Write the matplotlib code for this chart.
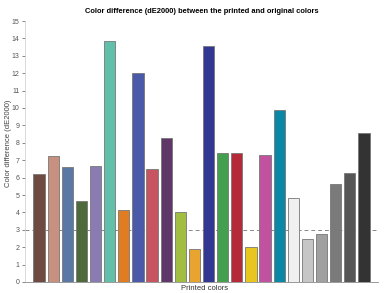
import matplotlib
matplotlib.use("Agg")
import matplotlib.pyplot as plt

values = [6.2, 7.25, 6.6, 4.65, 6.65, 13.85, 4.15, 12.0, 6.5, 8.25, 4.0, 1.9,
          13.55, 7.42, 7.42, 2.03, 7.32, 9.88, 4.85, 2.5, 2.78, 5.63, 6.25, 8.55]
colors = ["#6e4a40", "#c8907e", "#5a78a6", "#4e6a3c", "#8a7cb2", "#62c0aa",
          "#e07c22", "#4a5aa8", "#c85462", "#5e3668", "#a2be42", "#e8a42e",
          "#323892", "#44a04e", "#b42a38", "#e8c61e", "#c052a0", "#0a88a6",
          "#f0f0f0", "#c6c6c6", "#a0a0a0", "#7a7a7a", "#565656", "#333333"]
yticks = list(range(0, 16))
threshold = 3
title = "Color difference (dE2000) between the printed and original colors"
xlabel = "Printed colors"
ylabel = "Color difference (dE2000)"

plt.rcParams['font.family'] = ['Liberation Sans', 'DejaVu Sans']
fig = plt.figure(figsize=(3.9, 2.93), dpi=100)
ax = fig.add_axes([25/390, 1-282/293, (378-25)/390, (282-21)/293])
x = list(range(1, len(values)+1))
ax.axhline(threshold, color="#888888", lw=0.7, ls=(0, (4, 3)), zorder=1)
ax.bar(x, values, width=0.8, color=colors, edgecolor="#777777", linewidth=0.6, zorder=2)
ax.set_xlim(0, 25)
ax.set_ylim(0, 15)
ax.set_yticks(yticks)
ax.set_xticks([])
ax.tick_params(axis='y', labelsize=5, colors="#555555", length=2, width=0.5, pad=2)
ax.set_title(title, fontsize=5.4, fontweight='bold', pad=6)
ax.set_xlabel(xlabel, fontsize=5.5, color="#333333")
ax.set_ylabel(ylabel, fontsize=5.5, color="#444444")
ax.yaxis.set_label_coords(-0.037, 0.53)
ax.xaxis.set_label_coords(0.51, -0.01)
ax.xaxis.label.set_verticalalignment('top')
for s in ['top', 'right']:
    ax.spines[s].set_visible(False)
ax.spines['left'].set_color("#cccccc")
ax.spines['left'].set_linewidth(0.5)
ax.spines['bottom'].set_color("#999999")
ax.spines['bottom'].set_linewidth(0.7)
fig.savefig("out.png", dpi=100)
